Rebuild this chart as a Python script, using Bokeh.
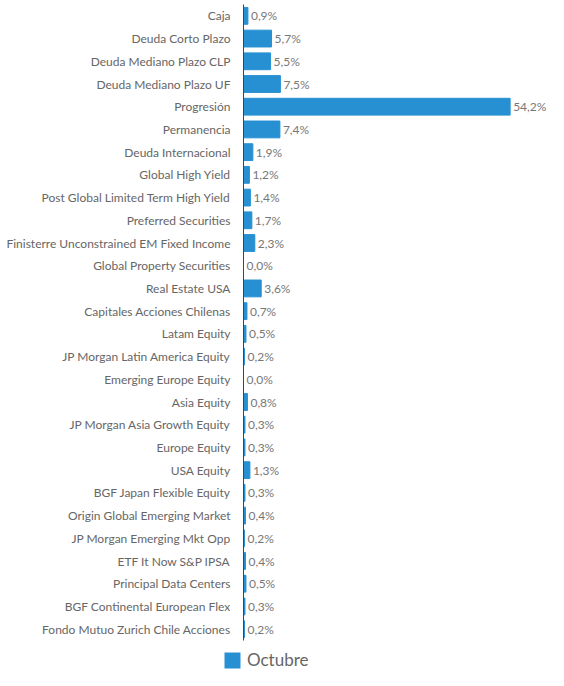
from bokeh.plotting import figure
from bokeh.layouts import column
from bokeh.models import ColumnDataSource, FactorRange, Range1d, Legend, LegendItem
from bokeh.core.properties import value
from bokeh.embed import file_html
from bokeh.resources import INLINE

categories = [
    "Caja", "Deuda Corto Plazo", "Deuda Mediano Plazo CLP", "Deuda Mediano Plazo UF",
    "Progresión", "Permanencia", "Deuda Internacional", "Global High Yield",
    "Post Global Limited Term High Yield", "Preferred Securities",
    "Finisterre Unconstrained EM Fixed Income", "Global Property Securities",
    "Real Estate USA", "Capitales Acciones Chilenas", "Latam Equity",
    "JP Morgan Latin America Equity", "Emerging Europe Equity", "Asia Equity",
    "JP Morgan Asia Growth Equity", "Europe Equity", "USA Equity",
    "BGF Japan Flexible Equity", "Origin Global Emerging Market",
    "JP Morgan Emerging Mkt Opp", "ETF It Now S&P IPSA", "Principal Data Centers",
    "BGF Continental European Flex", "Fondo Mutuo Zurich Chile Acciones",
]
octubre = [0.9, 5.7, 5.5, 7.5, 54.2, 7.4, 1.9, 1.2, 1.4, 1.7, 2.3, 0.0, 3.6, 0.7,
           0.5, 0.2, 0.0, 0.8, 0.3, 0.3, 1.3, 0.3, 0.4, 0.2, 0.4, 0.5, 0.3, 0.2]
series_name = "Octubre"

labels = [f"{v:.1f}".replace(".", ",") + "%" for v in octubre]
source = ColumnDataSource(dict(cat=categories, val=octubre, lab=labels))

FONT = "Lato"
BAR = "#2790d2"

p = figure(
    width=548, height=644,
    y_range=FactorRange(factors=list(reversed(categories)), range_padding=0),
    x_range=Range1d(0, 62),
    output_backend="svg", toolbar_location=None,
    min_border_left=243, min_border_right=0, min_border_top=4, min_border_bottom=4,
)
p.frame_align = False
p.outline_line_color = None
p.xgrid.visible = False
p.ygrid.visible = False
p.xaxis.visible = False

p.hbar(y="cat", right="val", left=0, height=0.74, color=BAR, source=source)
p.text(x="val", y="cat", text="lab", source=source, x_offset=3,
       text_baseline="middle", text_align="left", text_font_size="12px",
       text_color="#777777", text_font=value(FONT))

ya = p.yaxis[0]
ya.axis_line_color = "#444444"
ya.major_tick_line_color = None
ya.minor_tick_line_color = None
ya.major_label_text_font = FONT
ya.major_label_text_font_size = "12px"
ya.major_label_text_color = "#666666"
ya.major_label_standoff = 7

# legend strip
legend_src = ColumnDataSource(dict(name=[series_name]))
q = figure(width=548, height=26, output_backend="svg", toolbar_location=None,
           x_range=FactorRange(factors=[series_name]), y_range=Range1d(0, 1),
           min_border_left=0, min_border_right=0, min_border_top=0, min_border_bottom=0)
q.frame_align = False
q.outline_line_color = None
q.axis.visible = False
q.grid.visible = False
sw = q.vbar(x="name", top=0, bottom=0, width=0.5, fill_color=BAR, line_color=None,
            source=legend_src)

legend = Legend(items=[LegendItem(label=series_name, renderers=[sw])],
                location=(222, 0), orientation="horizontal",
                glyph_width=20, glyph_height=20, padding=0, margin=0,
                label_text_font=FONT, label_text_font_size="17px",
                label_text_color="#666666", label_standoff=5,
                border_line_color=None, background_fill_alpha=0)
q.add_layout(legend, "center")

layout = column(p, q, spacing=0)
open("out.html", "w").write(file_html(layout, INLINE))
